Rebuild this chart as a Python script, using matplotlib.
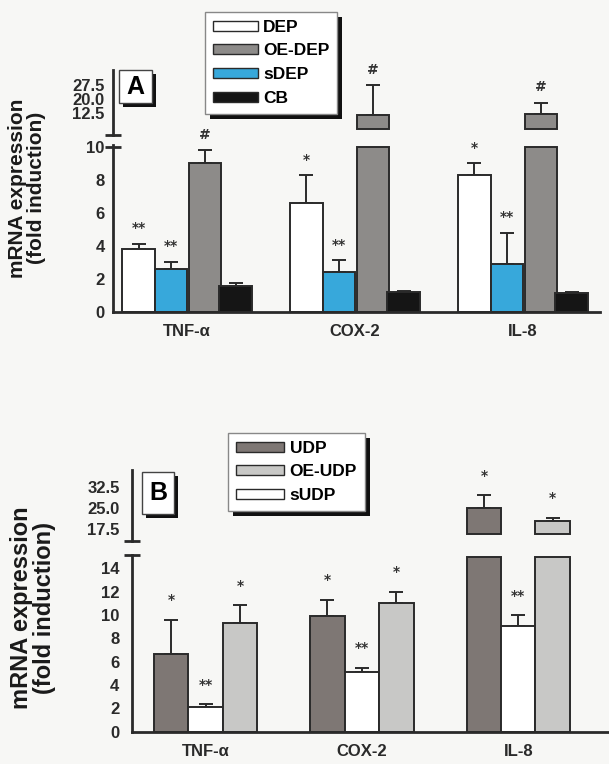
import matplotlib
matplotlib.use("Agg")
import matplotlib.pyplot as plt
from matplotlib.patches import Patch, Rectangle
import numpy as np

# ---- data ----
categories = ["TNF-\u03b1", "COX-2", "IL-8"]

# panel A
dep = [3.8, 6.6, 8.3]
dep_err = [0.35, 1.7, 0.7]
dep_marks = ["**", "*", "*"]
sdep = [2.6, 2.45, 2.9]
sdep_err = [0.45, 0.7, 1.9]
sdep_marks = ["**", "**", "**"]
oe_dep = [9.0, 11.4, 12.0]
oe_dep_err = [0.8, 16.1, 6.0]
oe_dep_marks = ["#", "#", "#"]
cb = [1.6, 1.2, 1.15]
cb_err = [0.15, 0.05, 0.05]
cb_marks = ["", "", ""]

# panel B
udp = [6.7, 9.95, 25.1]
udp_err = [2.9, 1.35, 4.5]
udp_marks = ["*", "*", "*"]
sudp = [2.15, 5.15, 9.05]
sudp_err = [0.2, 0.35, 0.95]
sudp_marks = ["**", "**", "**"]
oe_udp = [9.3, 11.05, 20.3]
oe_udp_err = [1.55, 0.95, 1.2]
oe_udp_marks = ["*", "*", "*"]

ticks_a_lo = [0, 2, 4, 6, 8, 10]
ticks_a_hi = [12.5, 20.0, 27.5]
ticks_b_lo = [0, 2, 4, 6, 8, 10, 12, 14]
ticks_b_hi = [17.5, 25.0, 32.5]

# ---- style ----
BG = "#f7f7f5"
EDGE = "#2a2a2a"
FONT = "Liberation Sans"
plt.rcParams["font.family"] = [FONT, "DejaVu Sans"]

W, H = 609, 764
fig = plt.figure(figsize=(W / 100, H / 100), dpi=100, facecolor=BG)


def px_axes(x0, y0, x1, y1):
    ax = fig.add_axes([x0 / W, 1 - y1 / H, (x1 - x0) / W, (y1 - y0) / H])
    ax.set_facecolor("none")
    return ax


def style_axis(ax, ticks, labels, pad, bottom=True):
    for s in ["top", "right"]:
        ax.spines[s].set_visible(False)
    ax.spines["left"].set_linewidth(2)
    ax.spines["left"].set_color(EDGE)
    ax.spines["bottom"].set_visible(bottom)
    ax.spines["bottom"].set_linewidth(2)
    ax.spines["bottom"].set_color(EDGE)
    ax.set_yticks(ticks)
    ax.set_yticklabels(labels, fontsize=12, fontweight="bold")
    ax.tick_params(axis="y", length=0, pad=pad, colors="#2a2a2a")
    if not bottom:
        ax.set_xticks([])


def break_tick(ax, y):
    ax.plot([-0.016, 0.016], [y, y], transform=ax.get_yaxis_transform(),
            color=EDGE, lw=2, clip_on=False, solid_capstyle="butt")


def draw_series(ax_lo, ax_hi, xs, vals, errs, marks, color, width, cap, stub, mark_off):
    vals = np.asarray(vals, float)
    errs = np.asarray(errs, float)
    ax_lo.bar(xs, np.minimum(vals, cap), width, color=color, edgecolor=EDGE, lw=1.4, zorder=2)
    low = vals <= cap
    if low.any():
        ax_lo.errorbar(xs[low], vals[low], yerr=[np.zeros(low.sum()), errs[low]], fmt="none",
                       ecolor=EDGE, elinewidth=1.4, capsize=5, capthick=1.4, zorder=1)
    hi = ~low
    if hi.any():
        ax_hi.bar(xs[hi], vals[hi] - stub, width, bottom=stub, color=color,
                  edgecolor=EDGE, lw=1.4, zorder=2)
        ax_hi.errorbar(xs[hi], vals[hi], yerr=[np.zeros(hi.sum()), errs[hi]], fmt="none",
                       ecolor=EDGE, elinewidth=1.4, capsize=5, capthick=1.4, zorder=1)
    for xi, v, e, m, lo in zip(xs, vals, errs, marks, low):
        if not m:
            continue
        ax = ax_lo if lo else ax_hi
        ax.annotate(m, (xi, v + e), xytext=(0, mark_off), textcoords="offset points",
                    ha="center", va="center", fontsize=10, fontweight="bold",
                    color="#333333", family="DejaVu Sans")


x = np.arange(len(categories))

# ---------------- panel A ----------------
axA = px_axes(113, 145.3, 600, 312)
axA_hi = px_axes(113, 70, 600, 135)
axA.set_ylim(0, 10.1)
axA_hi.set_ylim(0.74, 35.5)
for ax in (axA, axA_hi):
    ax.set_xlim(-0.44, 2.46)

wA = 0.194
seriesA = [
    (dep, dep_err, dep_marks, "#ffffff", -0.288),
    (sdep, sdep_err, sdep_marks, "#37a8db", -0.094),
    (oe_dep, oe_dep_err, oe_dep_marks, "#8d8b89", 0.108),
    (cb, cb_err, cb_marks, "#151515", 0.291),
]
for vals, errs, marks, col, off in seriesA:
    draw_series(axA, axA_hi, x + off, vals, errs, marks, col, wA, 10, 4.2, 11)

style_axis(axA, ticks_a_lo, [str(t) for t in ticks_a_lo], 6)
style_axis(axA_hi, ticks_a_hi, ["%.1f" % t for t in ticks_a_hi], 6, bottom=False)
axA.set_xticks(x)
axA.set_xticklabels(categories, fontsize=12, fontweight="bold")
axA.tick_params(axis="x", length=0, pad=9, colors="#2a2a2a")
break_tick(axA, 10)
break_tick(axA_hi, 0.74)

# ---------------- panel B ----------------
axB = px_axes(132, 555, 609, 731.7)
axB_hi = px_axes(132, 470, 609, 541)
axB.set_ylim(0, 15.14)
axB_hi.set_ylim(13.2, 38.6)
for ax in (axB, axB_hi):
    ax.set_xlim(-0.47, 2.58)

wB = 0.22
seriesB = [
    (udp, udp_err, udp_marks, "#7e7774", -0.22),
    (sudp, sudp_err, sudp_marks, "#ffffff", 0.0),
    (oe_udp, oe_udp_err, oe_udp_marks, "#c8c8c6", 0.22),
]
for vals, errs, marks, col, off in seriesB:
    draw_series(axB, axB_hi, x + off, vals, errs, marks, col, wB, 15, 15.7, 14)

style_axis(axB, ticks_b_lo, [str(t) for t in ticks_b_lo], 9)
style_axis(axB_hi, ticks_b_hi, ["%.1f" % t for t in ticks_b_hi], 9, bottom=False)
axB.set_xticks(x)
axB.set_xticklabels(categories, fontsize=12, fontweight="bold")
axB.tick_params(axis="x", length=0, pad=9, colors="#2a2a2a")
break_tick(axB, 15.14)
break_tick(axB_hi, 13.2)

# ---------------- y labels ----------------
fig.text(27 / W, 1 - 188 / H, "mRNA expression\n(fold induction)", rotation=90,
         ha="center", va="center", fontsize=15, fontweight="bold",
         linespacing=0.95, color="#1a1a1a")
fig.text(33 / W, 1 - 608 / H, "mRNA expression\n(fold induction)", rotation=90,
         ha="center", va="center", fontsize=17, fontweight="bold",
         linespacing=0.95, color="#1a1a1a")


# ---------------- panel letters ----------------
def letter_box(x0, y0, x1, y1, letter):
    sh = 4
    fig.patches.append(Rectangle((x0 / W + sh / W, 1 - (y1 + sh) / H), (x1 - x0) / W, (y1 - y0) / H,
                                 transform=fig.transFigure, facecolor="#111111", edgecolor="none", zorder=3))
    fig.patches.append(Rectangle((x0 / W, 1 - y1 / H), (x1 - x0) / W, (y1 - y0) / H,
                                 transform=fig.transFigure, facecolor="white", edgecolor="#444444",
                                 lw=1, zorder=3.1))
    fig.text((x0 + x1) / 2 / W, 1 - (y0 + y1) / 2 / H, letter, ha="center", va="center",
             fontsize=18, fontweight="bold", zorder=3.2)


letter_box(119, 70, 152, 103, "A")
letter_box(142, 472, 174, 514, "B")

# ---------------- legends ----------------
leg_kw = dict(loc="upper left", prop={"weight": "bold", "size": 12.5},
              handleheight=0.52, handletextpad=0.3, labelspacing=0.5,
              borderpad=0.45, borderaxespad=0, frameon=True, fancybox=False,
              edgecolor="#888888", facecolor="white", framealpha=1)
hA = [Patch(facecolor=c, edgecolor=EDGE, lw=1) for c in ["#ffffff", "#8d8b89", "#37a8db", "#151515"]]
legA = fig.legend(hA, ["DEP", "OE-DEP", "sDEP", "CB"], bbox_to_anchor=(205 / W, 1 - 12 / H),
                  handlelength=2.6, **leg_kw)
hB = [Patch(facecolor=c, edgecolor=EDGE, lw=1) for c in ["#7e7774", "#c8c8c6", "#ffffff"]]
legB = fig.legend(hB, ["UDP", "OE-UDP", "sUDP"], bbox_to_anchor=(228 / W, 1 - 433 / H),
                  handlelength=2.8, **leg_kw)

fig.canvas.draw()
for leg in (legA, legB):
    bb = leg.get_frame().get_window_extent().transformed(fig.transFigure.inverted())
    fig.patches.append(Rectangle((bb.x0 + 5 / W, bb.y0 - 5 / H), bb.width, bb.height,
                                 transform=fig.transFigure, facecolor="#111111",
                                 edgecolor="none", zorder=4.9))

fig.savefig("out.png", dpi=100, facecolor=BG)
